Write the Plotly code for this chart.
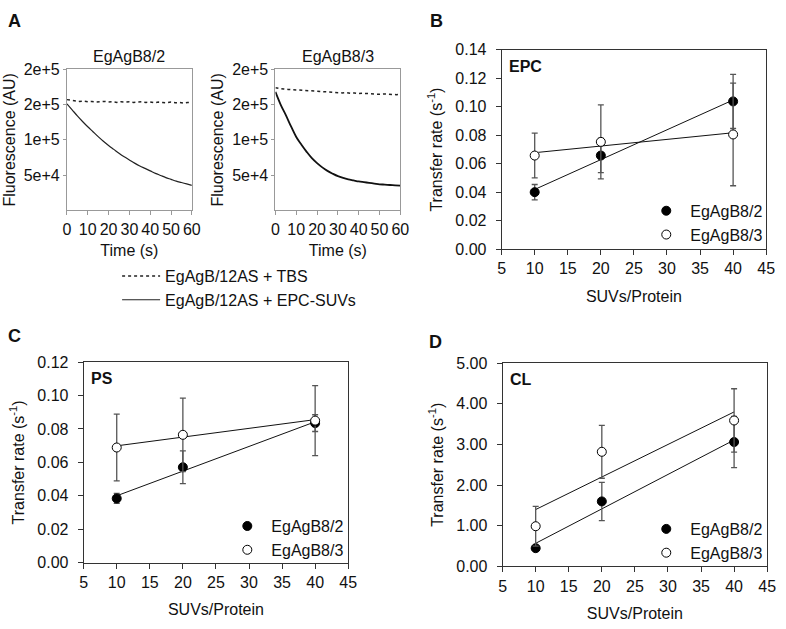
import plotly.graph_objects as go

# ---------------- Panel A: fluorescence time courses (values in AU) ----------------
time_epc = [0, 2.5, 5, 7.5, 10, 12.5, 15, 17.5, 20, 22.5, 25, 27.5, 30,
            32.5, 35, 37.5, 40, 42.5, 45, 47.5, 50, 52.5, 55, 57.5, 60]
epc_b82_k = [151, 142.5, 134, 126, 118.5, 111.5, 104.5, 98, 92, 86.5, 81, 76, 71.5,
             67, 63, 59.5, 56, 52.5, 49.5, 46.5, 44, 41.5, 39.5, 37.5, 35.5]
epc_b83_k = [168, 150, 135, 119, 104, 93, 83, 74, 67, 61, 56, 52, 48.5,
             46, 44, 42.5, 41, 40, 39, 38, 37, 36.5, 36, 35.5, 35]
time_tbs = [0, 2, 4, 6, 8, 10, 12, 14, 16, 18, 20, 22, 24, 26, 28, 30,
            32, 34, 36, 38, 40, 42, 44, 46, 48, 50, 52, 54, 56, 58, 60]
tbs_b82_k = [157, 156, 155.5, 154.5, 155, 154, 154.5, 153.5, 154, 154.5, 153.5, 154, 153, 154, 153.5, 154,
             153, 153.5, 154, 153, 153.5, 152.5, 153.5, 153, 152.5, 153.5, 152.5, 153, 152, 153, 152.5]
tbs_b83_k = [174, 172.5, 172, 171.5, 171, 170.5, 170, 170.5, 169.5, 169, 169, 168.5, 168, 167.5, 168, 167,
             166.5, 167, 166, 166.5, 165.5, 166, 165.5, 165, 165.5, 164.5, 165, 164.5, 165, 164, 164.5]
fluo_tickvals = [50000, 100000, 150000, 200000]
fluo_ticktext = ["5e+4", "1e+5", "2e+5", "2e+5"]
time_ticks = [0, 10, 20, 30, 40, 50, 60]

# ---------------- Panels B-D: transfer rates ----------------
suv_ratio = [10, 20, 40]
fit_x = [10, 40]

epc_b82 = [0.0401, 0.0658, 0.1038]
epc_b82_err = [0.0054, 0.0120, 0.0190]
epc_b83 = [0.0658, 0.0754, 0.0806]
epc_b83_err = [0.0157, 0.0260, 0.0360]
epc_b82_fit = [0.0420, 0.1048]
epc_b83_fit = [0.0678, 0.0818]

ps_b82 = [0.0384, 0.0571, 0.0835]
ps_b82_err = [0.0030, 0.0098, 0.0050]
ps_b83 = [0.0689, 0.0765, 0.0850]
ps_b83_err = [0.0200, 0.0220, 0.0210]
ps_b82_fit = [0.0400, 0.0843]
ps_b83_fit = [0.0699, 0.0856]

cl_b82 = [0.45, 1.60, 3.06]
cl_b82_err = [0.05, 0.47, 0.63]
cl_b83 = [0.99, 2.82, 3.59]
cl_b83_err = [0.49, 0.65, 0.78]
cl_b82_fit = [0.57, 3.11]
cl_b83_fit = [1.40, 3.80]

FONT = "Liberation Sans, Arial, sans-serif"
W, H = 786, 629


def px_x(a, b):
    return [a / W, b / W]


def px_y(top, bottom):
    return [1 - bottom / H, 1 - top / H]


fig = go.Figure()

# Panel A traces
fig.add_trace(go.Scatter(x=time_tbs, y=[v * 1000 for v in tbs_b82_k], mode="lines",
                         line=dict(color="#222", width=1.5, dash="dot"),
                         name="EgAgB/12AS + TBS", legend="legend", xaxis="x", yaxis="y"))
fig.add_trace(go.Scatter(x=time_epc, y=[v * 1000 for v in epc_b82_k], mode="lines",
                         line=dict(color="#222", width=1.2, shape="spline"),
                         name="EgAgB/12AS + EPC-SUVs", legend="legend", xaxis="x", yaxis="y"))
fig.add_trace(go.Scatter(x=time_tbs, y=[v * 1000 for v in tbs_b83_k], mode="lines",
                         line=dict(color="#222", width=1.5, dash="dot"),
                         showlegend=False, xaxis="x2", yaxis="y2"))
fig.add_trace(go.Scatter(x=time_epc, y=[v * 1000 for v in epc_b83_k], mode="lines",
                         line=dict(color="#111", width=1.8, shape="spline"),
                         showlegend=False, xaxis="x2", yaxis="y2"))

# Panels B-D
panels = [
    ("x3", "y3", "legend2", epc_b82, epc_b82_err, epc_b83, epc_b83_err, epc_b82_fit, epc_b83_fit),
    ("x4", "y4", "legend3", ps_b82, ps_b82_err, ps_b83, ps_b83_err, ps_b82_fit, ps_b83_fit),
    ("x5", "y5", "legend4", cl_b82, cl_b82_err, cl_b83, cl_b83_err, cl_b82_fit, cl_b83_fit),
]
for xa, ya, lg, f_vals, f_err, o_vals, o_err, f_fit, o_fit in panels:
    for fit in (f_fit, o_fit):
        fig.add_trace(go.Scatter(x=fit_x, y=fit, mode="lines", line=dict(color="#111", width=1),
                                 showlegend=False, xaxis=xa, yaxis=ya, hoverinfo="skip"))
    fig.add_trace(go.Scatter(x=suv_ratio, y=f_vals, mode="markers", name="EgAgB8/2",
                             marker=dict(symbol="circle", size=9, color="black",
                                         line=dict(color="black", width=1)),
                             error_y=dict(type="data", array=f_err, color="#555", thickness=1.3, width=3),
                             legend=lg, xaxis=xa, yaxis=ya))
    fig.add_trace(go.Scatter(x=suv_ratio, y=o_vals, mode="markers", name="EgAgB8/3",
                             marker=dict(symbol="circle", size=9, color="white",
                                         line=dict(color="black", width=1)),
                             error_y=dict(type="data", array=o_err, color="#555", thickness=1.3, width=3),
                             legend=lg, xaxis=xa, yaxis=ya))

tickfont = dict(family=FONT, size=16, color="#111")
titlefont = dict(family=FONT, size=16, color="#111")

a_x_common = dict(range=[0, 60], tickvals=time_ticks, ticks="outside", ticklen=4, tickcolor="#999",
                  showline=True, linecolor="#999", mirror=True, showgrid=False, zeroline=False,
                  tickfont=tickfont, ticklabeloverflow="allow",
                  title=dict(text="Time (s)", font=titlefont, standoff=8))
a_y_common = dict(range=[0, 200000], tickvals=fluo_tickvals, ticktext=fluo_ticktext, ticks="outside",
                  ticklen=3, tickcolor="#999", showline=True, linecolor="#999", mirror=True,
                  showgrid=False, zeroline=False, tickfont=tickfont, ticklabeloverflow="allow",
                  title=dict(text="Fluorescence (AU)", font=titlefont, standoff=4))

r_x_common = dict(range=[5, 45], dtick=5, tick0=5, ticks="outside", ticklen=5, tickcolor="#333",
                  showline=True, linecolor="#333", mirror=True, showgrid=False, zeroline=False,
                  tickfont=tickfont, ticklabeloverflow="allow",
                  title=dict(text="SUVs/Protein", font=titlefont, standoff=14))
r_y_common = dict(ticks="outside", ticklen=5, tickcolor="#333", showline=True, linecolor="#333",
                  mirror=True, showgrid=False, zeroline=False, tickfont=tickfont, tickformat=".2f",
                  ticklabeloverflow="allow", ticklabelstandoff=6,
                  title=dict(text="Transfer rate (s<sup>-1</sup>)", font=titlefont, standoff=8))

legend_item = dict(font=dict(family=FONT, size=16, color="#111"), bgcolor="rgba(0,0,0,0)",
                   borderwidth=0, xanchor="left", yanchor="top", tracegroupgap=0, itemwidth=38)

fig.update_layout(
    width=W, height=H, margin=dict(l=0, r=0, t=0, b=0),
    paper_bgcolor="white", plot_bgcolor="white",
    font=dict(family=FONT, size=16, color="#111"),
    xaxis=dict(domain=px_x(64, 191), anchor="y", **a_x_common),
    yaxis=dict(domain=px_y(63, 208), anchor="x", **a_y_common),
    xaxis2=dict(domain=px_x(276, 403), anchor="y2", **a_x_common),
    yaxis2=dict(domain=px_y(63, 208), anchor="x2", **a_y_common),
    xaxis3=dict(domain=px_x(506, 775), anchor="y3", **r_x_common),
    yaxis3=dict(domain=px_y(43, 248), anchor="x3", range=[0, 0.14], dtick=0.02, **r_y_common),
    xaxis4=dict(domain=px_x(81, 350), anchor="y4", **r_x_common),
    yaxis4=dict(domain=px_y(364, 570), anchor="x4", range=[0, 0.12], dtick=0.02, **r_y_common),
    xaxis5=dict(domain=px_x(507, 776), anchor="y5", **r_x_common),
    yaxis5=dict(domain=px_y(365, 574), anchor="x5", range=[0, 5], dtick=1, **r_y_common),
    legend=dict(x=115 / W, y=1 - 258 / H, **legend_item),
    legend2=dict(x=649 / W, y=1 - 191 / H, **legend_item),
    legend3=dict(x=223 / W, y=1 - 515 / H, **legend_item),
    legend4=dict(x=649 / W, y=1 - 518 / H, **legend_item),
    showlegend=True,
)

annotations = [
    dict(text="<b>A</b>", x=2 / W, y=1 - 1 / H, xanchor="left", yanchor="top", font=dict(size=18)),
    dict(text="<b>B</b>", x=431 / W, y=1 - 1 / H, xanchor="left", yanchor="top", font=dict(size=18)),
    dict(text="<b>C</b>", x=2 / W, y=1 - 325 / H, xanchor="left", yanchor="top", font=dict(size=18)),
    dict(text="<b>D</b>", x=430 / W, y=1 - 331 / H, xanchor="left", yanchor="top", font=dict(size=18)),
    dict(text="EgAgB8/2", xref="x domain", yref="paper", x=0.5, y=1 - 50 / H,
         xanchor="center", yanchor="middle", font=dict(size=16)),
    dict(text="EgAgB8/3", xref="x2 domain", yref="paper", x=0.5, y=1 - 50 / H,
         xanchor="center", yanchor="middle", font=dict(size=16)),
    dict(text="<b>EPC</b>", xref="x3 domain", yref="y3 domain", x=0.02, y=0.97,
         xanchor="left", yanchor="top", font=dict(size=16)),
    dict(text="<b>PS</b>", xref="x4 domain", yref="y4 domain", x=0.02, y=0.97,
         xanchor="left", yanchor="top", font=dict(size=16)),
    dict(text="<b>CL</b>", xref="x5 domain", yref="y5 domain", x=0.02, y=0.97,
         xanchor="left", yanchor="top", font=dict(size=16)),
]
for a in annotations:
    a.setdefault("xref", "paper")
    a.setdefault("yref", "paper")
    a["showarrow"] = False
    a["font"] = dict(family=FONT, color="#111", **a["font"])
fig.update_layout(annotations=annotations)

fig.write_html(
    "out.html",
    config={"displayModeBar": False, "responsive": False},
    post_script=("document.documentElement.style.margin='0';"
                 "document.documentElement.style.overflow='hidden';"
                 "document.body.style.margin='0';document.body.style.padding='0';"
                 "document.body.style.overflow='hidden';"),
)
